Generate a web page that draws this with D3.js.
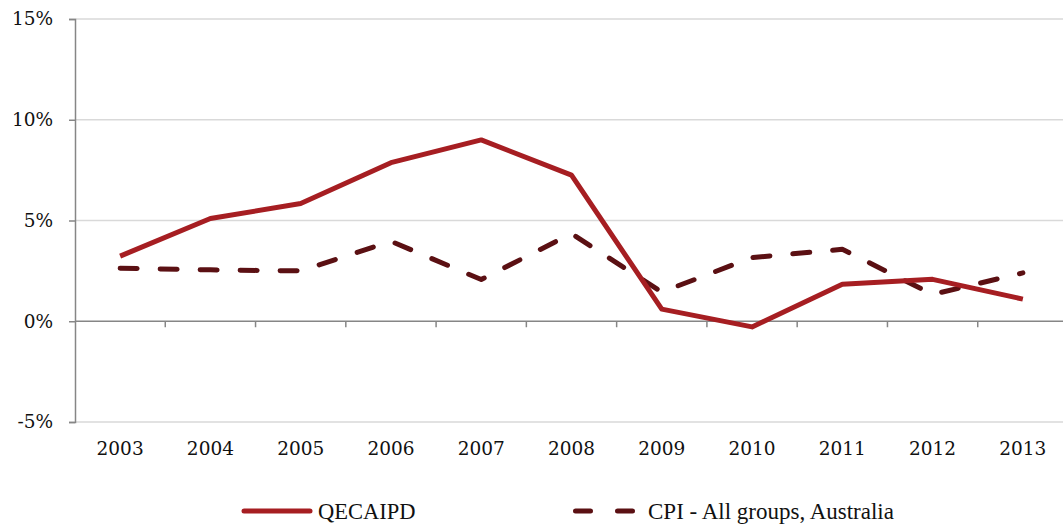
<!DOCTYPE html>
<html>
<head>
<meta charset="utf-8">
<script src="https://cdn.jsdelivr.net/npm/d3@7"></script>
<style>
  html, body { margin: 0; padding: 0; background: #fff; }
  svg { display: block; }
</style>
</head>
<body>
<svg id="chart" width="1063" height="524"></svg>
<script>
// Annual growth, per cent
const years = ["2003", "2004", "2005", "2006", "2007", "2008", "2009", "2010", "2011", "2012", "2013"];
const qecaipd = [3.23, 5.1, 5.84, 7.87, 9.0, 7.25, 0.6, -0.28, 1.84, 2.08, 1.1];
const cpi = [2.63, 2.55, 2.5, 3.97, 2.07, 4.35, 1.45, 3.16, 3.57, 1.33, 2.4];
const yTicks = [-5, 0, 5, 10, 15];
const seriesNames = ["QECAIPD", "CPI - All groups, Australia"];

const svg = d3.select("#chart");
const plotLeft = 75, plotRight = 1068, plotTop = 19, plotBottom = 422;

const x = d3.scaleBand().domain(years).range([plotLeft, plotRight]);
const y = d3.scaleLinear().domain([-5, 15]).range([plotBottom, plotTop]);

const axisFont = "'DejaVu Serif', Georgia, serif";
const legendFont = "'Liberation Serif', 'Times New Roman', serif";

// horizontal gridlines
svg.append("g")
  .selectAll("line")
  .data(yTicks.filter(d => d !== 0))
  .join("line")
  .attr("x1", plotLeft).attr("x2", 1063)
  .attr("y1", d => y(d)).attr("y2", d => y(d))
  .attr("stroke", "#d9d9d9").attr("stroke-width", 1.5);

// y axis
const yAxis = svg.append("g")
  .attr("transform", `translate(${plotLeft},0)`)
  .call(d3.axisLeft(y).tickValues(yTicks).tickSize(6).tickPadding(16).tickFormat(d => d + "%"));
yAxis.select(".domain").attr("stroke", "#868686").attr("stroke-width", 1.5);
yAxis.selectAll(".tick line").attr("stroke", "#868686").attr("stroke-width", 1.5);
yAxis.selectAll("text")
  .attr("font-family", axisFont).attr("font-size", 18.5).attr("fill", "#111");

// zero line with ticks at the category boundaries
const boundaries = years.map(d => x(d)).concat([x(years[years.length - 1]) + x.bandwidth()]);
svg.append("line")
  .attr("x1", plotLeft).attr("x2", 1063)
  .attr("y1", y(0)).attr("y2", y(0))
  .attr("stroke", "#868686").attr("stroke-width", 1.5);
svg.append("g")
  .selectAll("line")
  .data(boundaries.slice(1))
  .join("line")
  .attr("x1", d => d).attr("x2", d => d)
  .attr("y1", y(0)).attr("y2", y(0) + 6)
  .attr("stroke", "#868686").attr("stroke-width", 1.5);

// category labels below the plot
svg.append("g")
  .selectAll("text")
  .data(years)
  .join("text")
  .attr("x", d => x(d) + x.bandwidth() / 2)
  .attr("y", 455)
  .attr("text-anchor", "middle")
  .attr("font-family", axisFont).attr("font-size", 18.5).attr("fill", "#111")
  .text(d => d);

const cx = d => x(d) + x.bandwidth() / 2;
const line = d3.line().x(d => cx(d[0])).y(d => y(d[1]));

const red = "#a61e22", dark = "#5b1013";

// CPI series (dashed)
svg.append("path")
  .datum(years.map((yr, i) => [yr, cpi[i]]))
  .attr("d", line)
  .attr("fill", "none")
  .attr("stroke", dark).attr("stroke-width", 5)
  .attr("stroke-linecap", "round").attr("stroke-linejoin", "round")
  .attr("stroke-dasharray", "17,23");

// QECAIPD series (solid)
svg.append("path")
  .datum(years.map((yr, i) => [yr, qecaipd[i]]))
  .attr("d", line)
  .attr("fill", "none")
  .attr("stroke", red).attr("stroke-width", 5)
  .attr("stroke-linejoin", "round");

// legend
const legend = svg.append("g");
legend.append("line")
  .attr("x1", 244).attr("x2", 310).attr("y1", 511).attr("y2", 511)
  .attr("stroke", red).attr("stroke-width", 5).attr("stroke-linecap", "round");
legend.append("text")
  .attr("x", 318).attr("y", 519)
  .attr("font-family", legendFont).attr("font-size", 22.5).attr("fill", "#111")
  .text(seriesNames[0]);
legend.append("line")
  .attr("x1", 575.5).attr("x2", 633).attr("y1", 511).attr("y2", 511)
  .attr("stroke", dark).attr("stroke-width", 5).attr("stroke-linecap", "round")
  .attr("stroke-dasharray", "15,27");
legend.append("text")
  .attr("x", 648).attr("y", 519)
  .attr("font-family", legendFont).attr("font-size", 23).attr("fill", "#111")
  .text(seriesNames[1]);
</script>
</body>
</html>
